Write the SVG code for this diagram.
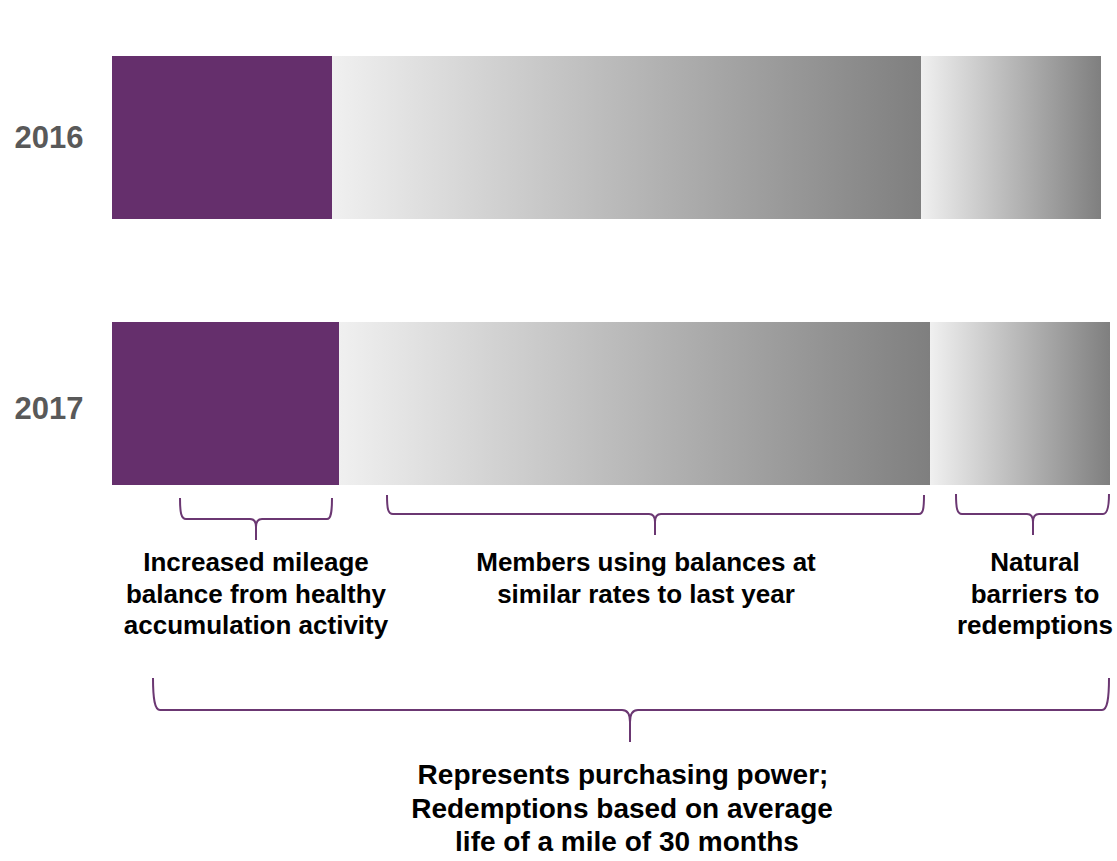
<svg xmlns="http://www.w3.org/2000/svg" width="1117" height="861" viewBox="0 0 1117 861">
<defs>
<linearGradient id="g" x1="0" y1="0" x2="1" y2="0">
<stop offset="0" stop-color="#f0f0f0"/>
<stop offset="1" stop-color="#7f7f7f"/>
</linearGradient>
<style>
.yr{font-family:"Liberation Sans",Arial,sans-serif;font-weight:bold;font-size:31px;fill:#595959;text-anchor:middle}
.lb{font-family:"Liberation Sans",Arial,sans-serif;font-weight:bold;font-size:26px;fill:#000;text-anchor:middle}
.bt{font-family:"Liberation Sans",Arial,sans-serif;font-weight:bold;font-size:28px;fill:#000;text-anchor:middle}
.pur{fill:#652f6c}
.gr{fill:url(#g)}
.br{fill:none;stroke:#6b3772;stroke-width:2}
</style>
</defs>
<rect width="1117" height="861" fill="#fff"/>
<g id="row2016">
<text class="yr" x="49" y="148">2016</text>
<rect class="pur" x="112" y="56" width="220" height="163"/>
<rect class="gr" x="332" y="56" width="589" height="163"/>
<rect class="gr" x="921" y="56" width="180" height="163"/>
</g>
<g id="row2017">
<text class="yr" x="49" y="419">2017</text>
<rect class="pur" x="112" y="322" width="227" height="163"/>
<rect class="gr" x="339" y="322" width="591" height="163"/>
<rect class="gr" x="930" y="322" width="180" height="163"/>
</g>
<g id="connectors">
<path class="br" d="M180,498 C180,512 181,519 186,519 L250,519 C254,519 256,521 256,527 L256,540 M256,527 C256,521 258,519 262,519 L327,519 C331,519 332,512 332,498"/>
<path class="br" d="M387,495 C387,509 388,514 393,514 L649,514 C653,514 655,516 655,522 L655,535 M655,522 C655,516 657,514 661,514 L919,514 C923,514 924,509 924,495"/>
<path class="br" d="M956,494 C956,508 957,514 962,514 L1027,514 C1031,514 1033,516 1033,522 L1033,535 M1033,522 C1033,516 1035,514 1039,514 L1103,514 C1107,514 1109,508 1109,494"/>
<path class="br" d="M153,678 C153,700 155,710 160,710 L622,710 C627,710 630,713 630,722 L630,742 M630,722 C630,713 633,710 638,710 L1102,710 C1107,710 1109,700 1109,678"/>
</g>
<g id="label1">
<text class="lb" x="256" y="571">Increased mileage</text>
<text class="lb" x="256" y="603">balance from healthy</text>
<text class="lb" x="256" y="634">accumulation activity</text>
</g>
<g id="label2">
<text class="lb" x="646" y="571">Members using balances at</text>
<text class="lb" x="646" y="603">similar rates to last year</text>
</g>
<g id="label3">
<text class="lb" x="1035" y="571">Natural</text>
<text class="lb" x="1035" y="603">barriers to</text>
<text class="lb" x="1035" y="634">redemptions</text>
</g>
<g id="label4">
<text class="bt" x="623" y="784">Represents purchasing power;</text>
<text class="bt" x="622" y="818">Redemptions based on average</text>
<text class="bt" x="627" y="851">life of a mile of 30 months</text>
</g>
</svg>
